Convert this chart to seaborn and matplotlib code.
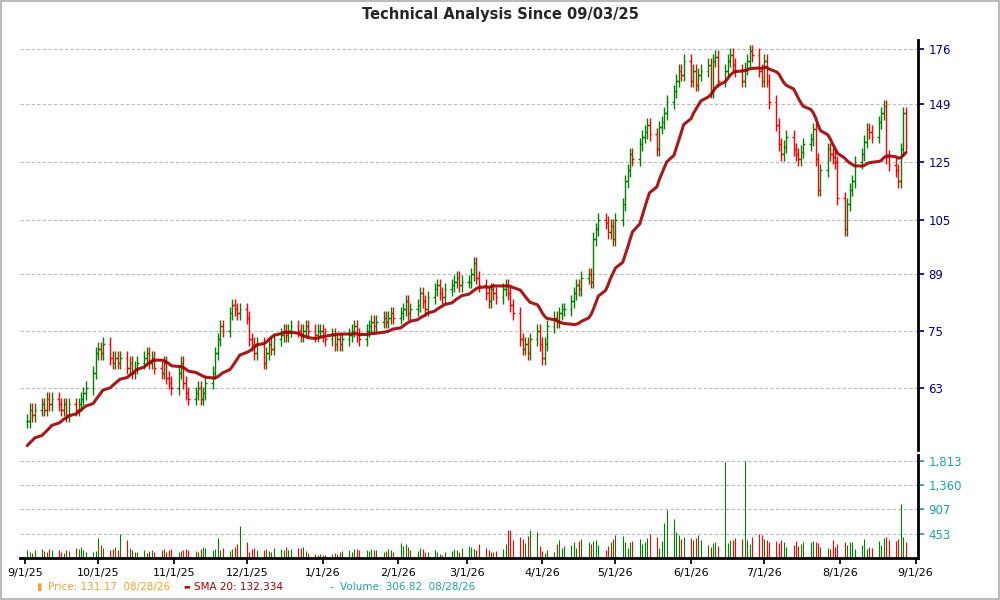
import numpy as np
import pandas as pd
import matplotlib
matplotlib.use("Agg")
import matplotlib.pyplot as plt
import seaborn as sns

sns.set_theme(style="white")
plt.rcParams['font.family'] = ['DejaVu Sans']

pre_close = [50,51,50,52,51,53,52,51,52,53,52,54,53,52,53,54,55,56,57]
sep = [57,59,58,59,60,59,61,60,61,60,59,60,58,60,59,60,61,62,63,66,70]
oct_ = [71,70,72,69,68,69,68,69,67,68,66,67,68,69,70,68,69,67,66,68,65,64,63]
nov = [66,68,64,62,61,62,63,61,62,64,66,70,73,76,75,79,81,80,79,80]
dec = [78,73,72,70,72,68,70,72,71,73,74,75,74,75,76,75,74,75,76,75,74,75,75]
jan = [74,73,74,72,73,72,73,74,75,76,74,73,75,76,77,76,77,78,77,78,79,78]
feb = [79,80,82,79,80,81,84,82,80,83,85,86,84,83,85,86,87,88,86,87]
mar = [87,89,92,88,86,84,82,85,84,83,85,86,84,81,79,73,71,72,70,73,75,72]
apr = [69,72,76,78,77,79,80,80,82,84,86,85,88,89,87,99,102,105,104,101,103,99]
may = [105,110,118,122,128,126,132,135,137,140,136,130,139,141,145,150,155,160,165,163,170]
jun = [160,165,158,163,165,168,155,170,172,160,165,170,173,168,165,160,166,170,175,173,165,160]
jul = [170,160,150,140,132,128,131,135,130,128,126,129,132,134,138,126,115,122,130,128,127,125,112]
aug = [102,110,115,118,125,128,133,138,137,135,141,145,148,127,124,122,118,130,145,131.17]

vol_sep = [150,120,90,140,160,130,110,170,150,140,120,100,150,130,190,160,210,140,120,110,130]
vol_oct = [380,250,180,140,160,200,150,450,340,180,140,110,120,150,90,130,150,110,140,160,120,140,170]
vol_nov = [110,130,150,170,140,130,120,160,210,180,140,160,370,150,180,130,160,200,270,600]
vol_dec = [300,120,160,180,140,150,170,130,120,190,160,140,200,150,170,180,190,210,130,90,80,60,70]
vol_jan = [50,60,70,90,80,110,130,140,120,160,170,140,150,130,170,140,150,120,130,160,140,110]
vol_feb = [280,220,260,200,140,130,190,170,120,110,150,120,80,60,110,130,160,140,120,190]
vol_mar = [230,200,170,140,260,190,150,120,110,130,170,260,530,520,340,390,360,280,410,520,480,230]
vol_apr = [130,90,150,120,260,340,180,230,250,290,180,310,360,290,260,320,330,240,140,220,300,350]
vol_may = [430,410,300,180,290,310,360,260,290,370,440,400,180,310,650,900,730,480,420,360,400]
vol_jun = [380,340,380,420,330,240,210,280,290,230,1800,280,330,340,380,360,1810,330,270,400,450,420]
vol_jul = [350,340,290,320,280,340,300,200,240,320,230,270,300,290,320,300,280,210,190,170,330,210,260]
vol_aug = [300,240,290,300,160,240,350,160,200,190,310,240,380,400,330,320,350,1000,400,306.82]

pre = pd.Series(pre_close, dtype=float)
close = pd.Series(sep + oct_ + nov + dec + jan + feb + mar + apr + may + jun + jul + aug, dtype=float)
volume = np.array(vol_sep + vol_oct + vol_nov + vol_dec + vol_jan + vol_feb + vol_mar +
                  vol_apr + vol_may + vol_jun + vol_jul + vol_aug, dtype=float)
n = len(close)
dates = pd.bdate_range(end="2026-08-28", periods=n)
allc = pd.concat([pre, close], ignore_index=True)
sma = allc.rolling(20, min_periods=1).mean().iloc[len(pre):].reset_index(drop=True)
opn = allc.shift(1).iloc[len(pre):].reset_index(drop=True)
hi = np.maximum(opn, close) * 1.02
lo = np.minimum(opn, close) * 0.98
up = close >= opn
cols = np.where(up, "#008000", "#ff0000")

fig = plt.figure(figsize=(10, 6), dpi=100)
fig.patch.set_edgecolor("#bbbbbb"); fig.patch.set_linewidth(1.5)
ax = fig.add_axes([0.02, 0.25, 0.898, 0.683])
axv = fig.add_axes([0.02, 0.07, 0.898, 0.172], sharex=ax)

half = pd.Timedelta(hours=16)
ax.vlines(dates, lo, hi, colors=cols, lw=1.0)
ax.hlines(opn, dates - half, dates, colors=cols, lw=1.0)
ax.hlines(close, dates, dates + half, colors=cols, lw=1.0)
df = pd.DataFrame({"date": dates, "sma": sma})
sns.lineplot(data=df, x="date", y="sma", ax=ax, color="#a00000", lw=2.2, alpha=0.9, legend=False)

ax.set_yscale("log")
ax.set_ylim(52.2, 180.9)
yt = [63, 75, 89, 105, 125, 149, 176]
ax.set_yticks(yt); ax.set_yticklabels([str(v) for v in yt])
ax.yaxis.set_minor_locator(matplotlib.ticker.NullLocator())
ax.yaxis.tick_right()
ax.tick_params(axis="y", colors="#000080", labelcolor="#000080", length=4, labelsize=8.5, direction="out")
for v in yt:
    ax.axhline(v, color="#bbbbbb", ls=(0, (3, 2)), lw=0.8, zorder=0)
ax.set_xlim(pd.Timestamp("2025-08-30"), pd.Timestamp("2026-09-02"))
for s in ["left", "top", "bottom"]:
    ax.spines[s].set_visible(False)
ax.spines["right"].set_color("black"); ax.spines["right"].set_linewidth(2)
ax.tick_params(axis="x", bottom=False, labelbottom=False)
ax.set_xlabel(""); ax.set_ylabel("")

axv.vlines(dates, 0, volume, colors=cols, lw=0.8)
vt = [453, 907, 1360, 1813]
axv.set_ylim(0, 1926)
axv.set_yticks(vt); axv.set_yticklabels([f"{v:,}" for v in vt])
axv.yaxis.tick_right()
axv.tick_params(axis="y", colors="#20a0b0", labelcolor="#20a0b0", length=4, labelsize=8.5)
for v in vt:
    axv.axhline(v, color="#bbbbbb", ls=(0, (3, 2)), lw=0.8, zorder=0)
for s in ["left", "top"]:
    axv.spines[s].set_visible(False)
axv.spines["right"].set_color("black"); axv.spines["right"].set_linewidth(2)
axv.spines["bottom"].set_color("black"); axv.spines["bottom"].set_linewidth(2)
months = pd.date_range("2025-09-01", "2026-09-01", freq="MS")
axv.set_xticks(months)
axv.set_xticklabels([f"{d.month}/{d.day}/{d.strftime('%y')}" for d in months])
axv.tick_params(axis="x", length=4, labelsize=8, colors="black", bottom=True)
axv.set_xlabel(""); axv.set_ylabel("")

fig.text(0.5, 0.975, "Technical Analysis Since 09/03/25", ha="center", va="center",
         fontsize=10.5, fontweight="bold")
ly = 0.022
fig.text(0.036, ly, "\u25ae", color="#f0a030", fontsize=7, va="center")
fig.text(0.048, ly, "Price: 131.17  08/28/26", color="#f0a030", fontsize=7.5, va="center")
fig.text(0.183, ly, "\u25ac", color="#c00000", fontsize=5, va="center")
fig.text(0.194, ly, "SMA 20: 132.334", color="#a00000", fontsize=7.5, va="center")
fig.text(0.330, ly, "-", color="#20a0b0", fontsize=7.5, va="center")
fig.text(0.340, ly, "Volume: 306.82  08/28/26", color="#20a0b0", fontsize=7.5, va="center")

fig.savefig("out.png", dpi=100, edgecolor=fig.get_edgecolor())
